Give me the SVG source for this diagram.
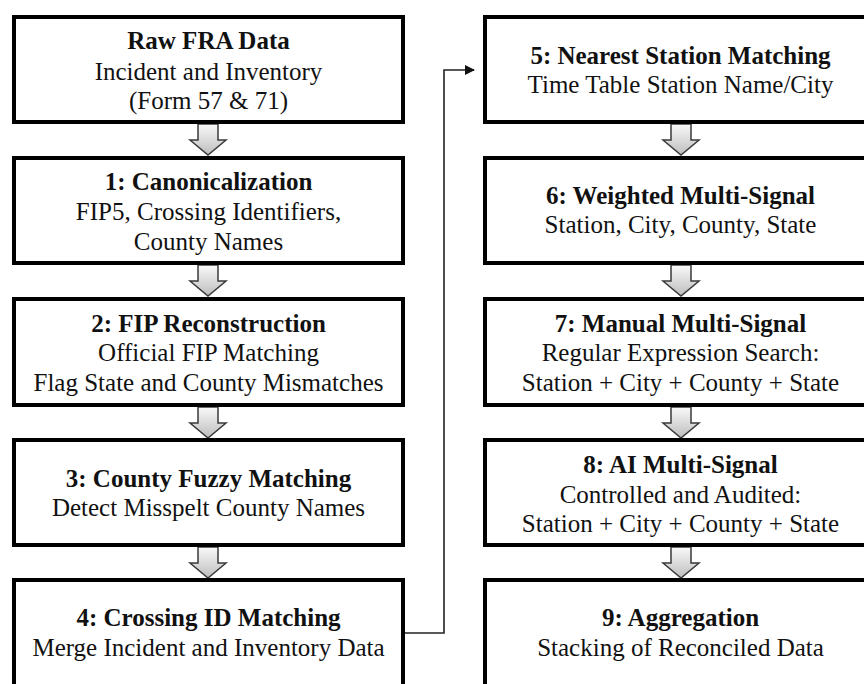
<svg xmlns="http://www.w3.org/2000/svg" width="864" height="684" viewBox="0 0 864 684">
<style>
.box{fill:#fff;stroke:#000;stroke-width:4}
.t{font-family:"Liberation Serif","Times New Roman",serif;font-size:25px;fill:#111;text-anchor:middle}
.b{font-weight:bold}
.blk{fill:url(#g);stroke:#3a3a3a;stroke-width:1.5;stroke-linejoin:miter}
.conn{fill:none;stroke:#222;stroke-width:1.6}
</style>
<defs>
<linearGradient id="g" x1="0" y1="0" x2="0" y2="1">
<stop offset="0" stop-color="#fafafa"/>
<stop offset="1" stop-color="#bdbdbd"/>
</linearGradient>
<marker id="ah" markerWidth="10" markerHeight="10" refX="9" refY="5" orient="auto" markerUnits="userSpaceOnUse">
<path d="M0,0 L10,5 L0,10 Z" fill="#111"/>
</marker>
<path id="blockArrow" d="M-10,0 H10 V16 H18 L0,31 L-18,16 H-10 Z"/>
</defs>
<rect width="864" height="684" fill="#fff"/>

<g id="connectors">
<path class="conn" d="M405,633 H444 V70 H474" marker-end="url(#ah)"/>
<use href="#blockArrow" class="blk" x="208" y="124"/>
<use href="#blockArrow" class="blk" x="208" y="265"/>
<use href="#blockArrow" class="blk" x="208" y="407"/>
<use href="#blockArrow" class="blk" x="208" y="547"/>
<use href="#blockArrow" class="blk" x="681" y="124"/>
<use href="#blockArrow" class="blk" x="681" y="265"/>
<use href="#blockArrow" class="blk" x="681" y="407"/>
<use href="#blockArrow" class="blk" x="681" y="547"/>
</g>

<g id="raw">
<rect class="box" x="14" y="17" width="389" height="105"/>
<text class="t b" x="208.5" y="49">Raw FRA Data</text>
<text class="t" x="208.5" y="80">Incident and Inventory</text>
<text class="t" x="208.5" y="109">(Form 57 &amp; 71)</text>
</g>
<g id="step1">
<rect class="box" x="14" y="158" width="389" height="105"/>
<text class="t b" x="208.5" y="190">1: Canonicalization</text>
<text class="t" x="208.5" y="219.5">FIP5, Crossing Identifiers,</text>
<text class="t" x="208.5" y="249.5">County Names</text>
</g>
<g id="step2">
<rect class="box" x="14" y="299" width="389" height="106"/>
<text class="t b" x="208.5" y="331.5">2: FIP Reconstruction</text>
<text class="t" x="208.5" y="360.5">Official  FIP Matching</text>
<text class="t" x="208.5" y="390.5">Flag State and County Mismatches</text>
</g>
<g id="step3">
<rect class="box" x="14" y="440" width="389" height="105"/>
<text class="t b" x="208.5" y="486.5">3: County Fuzzy Matching</text>
<text class="t" x="208.5" y="516">Detect Misspelt County Names</text>
</g>
<g id="step4">
<rect class="box" x="14" y="580" width="389" height="106"/>
<text class="t b" x="208.5" y="626">4: Crossing ID Matching</text>
<text class="t" x="208.5" y="656">Merge Incident and Inventory Data</text>
</g>

<g id="step5">
<rect class="box" x="485" y="17" width="391" height="105"/>
<text class="t b" x="680.5" y="63.5">5: Nearest Station Matching</text>
<text class="t" x="680.5" y="92.5">Time Table Station Name/City</text>
</g>
<g id="step6">
<rect class="box" x="485" y="158" width="391" height="105"/>
<text class="t b" x="680.5" y="204">6: Weighted Multi-Signal</text>
<text class="t" x="680.5" y="233">Station, City, County, State</text>
</g>
<g id="step7">
<rect class="box" x="485" y="299" width="391" height="106"/>
<text class="t b" x="680.5" y="331.5">7: Manual Multi-Signal</text>
<text class="t" x="680.5" y="360.5">Regular Expression Search:</text>
<text class="t" x="680.5" y="390.5">Station + City + County + State</text>
</g>
<g id="step8">
<rect class="box" x="485" y="440" width="391" height="105"/>
<text class="t b" x="680.5" y="473">8: AI Multi-Signal</text>
<text class="t" x="680.5" y="502.5">Controlled and Audited:</text>
<text class="t" x="680.5" y="532">Station + City + County + State</text>
</g>
<g id="step9">
<rect class="box" x="485" y="580" width="391" height="106"/>
<text class="t b" x="680.5" y="626">9: Aggregation</text>
<text class="t" x="680.5" y="656">Stacking of Reconciled Data</text>
</g>
</svg>
